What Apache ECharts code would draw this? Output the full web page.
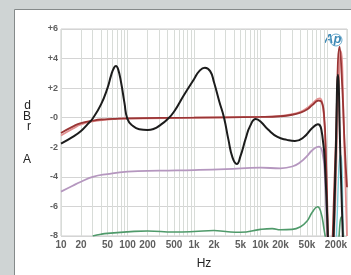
<!DOCTYPE html>
<html>
<head>
<meta charset="utf-8">
<script src="https://cdn.jsdelivr.net/npm/echarts@6/dist/echarts.min.js"></script>
<style>
  html, body { margin: 0; padding: 0; background: #cfd4d4; }
  #chart { width: 351px; height: 275px; }
</style>
</head>
<body>
<div id="chart"></div>
<script>
// x tick labels (Hz) and where they sit
var tickValues = [10, 20, 50, 100, 200, 500, 1000, 2000, 5000, 10000, 20000, 50000, 200000];
var tickLabels = ['10', '20', '50', '100', '200', '500', '1k', '2k', '5k', '10k', '20k', '50k', '200k'];

// black
var freqBlack = [10, 15, 20, 25, 30, 40, 50, 57, 63, 67, 72, 80, 90, 100, 120, 150, 200, 250, 300, 400, 500, 700,
  1000, 1200, 1460, 1750, 2000, 2400, 2830, 3300, 3800, 4400, 5000, 6000, 7000, 8500, 10000, 13000, 18000,
  25000, 33000, 45000, 60000, 73000, 85000, 95000, 105000, 115000, 124000, 135000, 146000, 160000, 176000, 190000];
var dbBlack = [-1.76, -1.3, -0.9, -0.45, -0.05, 0.9, 2.0, 2.9, 3.4, 3.5, 3.3, 2.4, 1.0, -0.1, -0.55, -0.78, -0.83, -0.75, -0.55, -0.1, 0.4, 1.5,
  2.6, 3.15, 3.38, 3.15, 2.4, 1.1, 0, -1.5, -2.7, -3.13, -2.6, -1.4, -0.55, -0.09, -0.25, -0.8, -1.3,
  -1.5, -1.58, -1.3, -0.7, -0.45, -1.2, -4, -9, -13, -9, -3, 2.9, -3, -9, -13];

// dark red
var freqRed = [10, 15, 20, 30, 40, 60, 100, 1000, 10000, 20000, 30000, 40000, 50000, 60000, 75000, 82000,
  90000, 97000, 105000, 112000, 118000, 135000, 155000, 170000, 185000, 200000];
var dbRed = [-1.03, -0.6, -0.36, -0.2, -0.12, -0.08, -0.04, 0, 0.05, 0.1, 0.2, 0.35, 0.55, 0.85, 1.15, 1.1,
  0.3, -3, -9, -13, -10, -2, 4.8, 2, -2, -4.7];

// pink
var freqPink = [10, 15, 20, 30, 50, 100, 1000, 10000, 20000, 30000, 40000, 50000, 60000, 77000, 85000,
  93000, 100000, 108000, 125000, 145000, 162000, 180000, 200000];
var dbPink = [-1.2, -0.75, -0.45, -0.25, -0.12, -0.06, 0, 0.05, 0.12, 0.25, 0.4, 0.65, 0.95, 1.3, 1.0,
  -1, -6, -12, -9, 0, 4.5, -1, -8];

// lilac
var freqLilac = [10, 15, 20, 30, 50, 100, 300, 1000, 3000, 10000, 20000, 30000, 40000, 50000, 60000, 75000,
  85000, 93000, 100000, 108000];
var dbLilac = [-5.0, -4.6, -4.33, -4.0, -3.81, -3.65, -3.58, -3.54, -3.48, -3.38, -3.42, -3.3, -3.0, -2.6, -2.2, -1.96,
  -2.3, -4, -8, -12];

// green
var freqGreen = [30, 40, 50, 100, 200, 500, 1000, 2000, 3000, 5000, 10000, 15000, 20000, 30000, 40000, 50000,
  60000, 72000, 80000, 90000, 100000, 115000, 140000, 165000, 185000, 200000];
var dbGreen = [-8.0, -7.88, -7.82, -7.72, -7.66, -7.73, -7.7, -7.63, -7.7, -7.75, -7.55, -7.5, -7.58, -7.55, -7.37, -7.0,
  -6.4, -6.02, -6.3, -7.5, -9, -13, -10, -6.7, -10, -13];

// cyan
var freqCyan = [110000, 125000, 160000, 185000, 200000];
var dbCyan = [-13, -12, -2.5, -12, -13];

function pairs(f, v) {
  return f.map(function (x, i) { return [x, v[i]]; });
}

var gridValues = [];
[10, 100, 1000, 10000, 100000].forEach(function (d) {
  for (var m = 1; m <= 9; m++) {
    if (m * d <= 200000) gridValues.push(m * d);
  }
});
gridValues.push(200000);

var chart = echarts.init(document.getElementById('chart'));

function line(name, data, color, width) {
  return {
    name: name,
    type: 'line',
    data: data,
    showSymbol: false,
    smooth: 0.5,
    lineStyle: { color: color, width: width },
    animation: false
  };
}

var option = {
  backgroundColor: '#cfd4d4',
  animation: false,
  textStyle: { fontFamily: 'Liberation Sans' },
  graphic: [
    {
      type: 'rect',
      z: -10,
      shape: { x: 14.5, y: 9.5, width: 345, height: 275 },
      style: { fill: '#ffffff', stroke: '#858a8a', lineWidth: 1 }
    },
    {
      type: 'text',
      left: 324,
      top: 33,
      style: { text: 'Ap', fill: '#3f8ab6', font: 'italic bold 13px Liberation Sans' }
    },
    {
      type: 'circle',
      shape: { cx: 336, cy: 40, r: 6 },
      style: { fill: 'none', stroke: '#6aa9cc', lineWidth: 1 }
    }
  ],
  grid: {
    left: 61,
    top: 29,
    right: 4,
    bottom: 39,
    show: true,
    borderColor: '#cccccc',
    borderWidth: 1
  },
  xAxis: {
    type: 'log',
    logBase: 10,
    min: 10,
    max: 200000,
    name: 'Hz',
    nameLocation: 'middle',
    nameGap: 22,
    nameTextStyle: { fontSize: 12, color: '#222' },
    axisLine: { show: false },
    axisTick: { show: false, customValues: gridValues },
    axisLabel: {
      customValues: tickValues,
      formatter: function (v) {
        var i = tickValues.indexOf(v);
        return i >= 0 ? tickLabels[i] : '';
      },
      fontSize: 10,
      fontWeight: 'bold',
      color: '#5e5e5e',
      margin: 4,
      alignMaxLabel: 'right'
    },
    splitLine: { show: true, lineStyle: { color: '#d8dcd8', width: 1 } }
  },
  yAxis: {
    type: 'value',
    min: -8,
    max: 6,
    interval: 2,
    name: 'd\nB\nr\n\n\nA',
    nameLocation: 'middle',
    nameRotate: 0,
    nameGap: 30,
    nameTextStyle: { fontSize: 12, color: '#222', lineHeight: 10.7 },
    axisLine: { show: false },
    axisTick: { show: false },
    axisLabel: {
      formatter: function (v) { return (v > 0 ? '+' : '-') + Math.abs(v); },
      fontSize: 9,
      fontWeight: 'bold',
      color: '#5e5e5e',
      margin: 3
    },
    splitLine: { show: true, lineStyle: { color: '#d4d4d4', width: 1 } }
  },
  series: [
    line('green', pairs(freqGreen, dbGreen), '#4f9a6a', 1.6),
    line('lilac', pairs(freqLilac, dbLilac), '#b597bf', 1.8),
    line('cyan', pairs(freqCyan, dbCyan), '#7fd0dc', 1.4),
    line('pink', pairs(freqPink, dbPink), '#e29090', 1.8),
    line('red', pairs(freqRed, dbRed), '#9a3535', 1.8),
    line('black', pairs(freqBlack, dbBlack), '#1c1c1c', 2)
  ]
};

chart.setOption(option);
</script>
</body>
</html>
